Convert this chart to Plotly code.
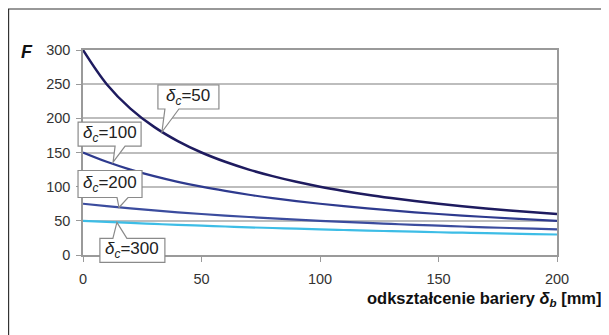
import plotly.graph_objects as go

# deformation of barrier delta_b [mm]
delta_b = [0, 10, 20, 30, 40, 50, 60, 70, 80, 90, 100, 110, 120, 130, 140, 150, 160, 170, 180, 190, 200]

F_dc50 = [300, 250, 214.3, 187.5, 166.7, 150, 136.4, 125, 115.4, 107.1, 100, 93.8, 88.2, 83.3, 78.9, 75, 71.4, 68.2, 65.2, 62.5, 60]
F_dc100 = [150, 136.4, 125, 115.4, 107.1, 100, 93.8, 88.2, 83.3, 78.9, 75, 71.4, 68.2, 65.2, 62.5, 60, 57.7, 55.6, 53.6, 51.7, 50]
F_dc200 = [75, 71.4, 68.2, 65.2, 62.5, 60, 57.7, 55.6, 53.6, 51.7, 50, 48.4, 46.9, 45.5, 44.1, 42.9, 41.7, 40.5, 39.5, 38.5, 37.5]
F_dc300 = [50, 48.4, 46.9, 45.5, 44.1, 42.9, 41.7, 40.5, 39.5, 38.5, 37.5, 36.6, 35.7, 34.9, 34.1, 33.3, 32.6, 31.9, 31.3, 30.6, 30]

series_names = ["δc=50", "δc=100", "δc=200", "δc=300"]
series_labels = ["<i>δ<sub>c</sub></i>=50", "<i>δ<sub>c</sub></i>=100",
                 "<i>δ<sub>c</sub></i>=200", "<i>δ<sub>c</sub></i>=300"]
series_values = [F_dc50, F_dc100, F_dc200, F_dc300]
series_colors = ["#1e1b5f", "#2e3a8e", "#3b4c9e", "#3dbde6"]
series_widths = [2.5, 2.2, 2.2, 2.2]

# callout anchor points on curves (data coords)
label_x = [33.3, 12.7, 15.2, 14.3]
label_y = [180, 136, 69.5, 47.7]
# callout geometry in pixels relative to the tip: box left, right, top, bottom, wedge x1, x2
callout_geom = [
    (-4, 57, 47, 23, 3, 17),
    (-35, 28, 40, 16, 2, 12),
    (-41, 23, 37, 10, -2, 9),
    (-17, 48, -16, -40, -4, 10),
]

x_range = [0, 200]
y_range = [0, 300]
x_ticks = [0, 50, 100, 150, 200]
y_ticks = [0, 50, 100, 150, 200, 250, 300]

fig = go.Figure()
for name, vals, col, w in zip(series_names, series_values, series_colors, series_widths):
    fig.add_trace(go.Scatter(x=delta_b, y=vals, mode="lines", name=name,
                             line=dict(color=col, width=w, shape="spline"),
                             showlegend=False, hoverinfo="skip"))

FONT = "Liberation Sans, Arial"
shapes = []
annotations = []
for lbl, tx, ty, g in zip(series_labels, label_x, label_y, callout_geom):
    L, R, T, B, w1, w2 = g
    if T > 0:
        path = f"M0,0 L{w2},{B} L{R},{B} L{R},{T} L{L},{T} L{L},{B} L{w1},{B} Z"
    else:
        path = f"M0,0 L{w2},{T} L{R},{T} L{R},{B} L{L},{B} L{L},{T} L{w1},{T} Z"
    # anchor given in paper fraction (so the callout is not clipped by the plot area)
    px = (tx - x_range[0]) / (x_range[1] - x_range[0])
    py = (ty - y_range[0]) / (y_range[1] - y_range[0])
    shapes.append(dict(type="path", xref="paper", yref="paper", xsizemode="pixel", ysizemode="pixel",
                       xanchor=px, yanchor=py, path=path, fillcolor="white",
                       line=dict(color="#8a8a8a", width=1.2), layer="above"))
    annotations.append(dict(x=tx, y=ty, xref="x", yref="y", text=lbl, showarrow=False,
                            xshift=(L + R) / 2, yshift=(T + B) / 2,
                            font=dict(family=FONT, size=17, color="#222")))

# outer frame (right and bottom edges run off the picture)
shapes.append(dict(type="rect", xref="paper", yref="paper",
                   x0=-0.157, x1=1.15, y0=-0.45, y1=1.200,
                   line=dict(color="#333333", width=1.2), fillcolor="rgba(0,0,0,0)", layer="below"))

annotations.append(dict(x=1.097, y=-0.215, xref="paper", yref="paper", xanchor="right", yanchor="middle",
                        text="<b>odkształcenie bariery <i>δ<sub>b</sub></i> [mm]</b>", showarrow=False,
                        font=dict(family=FONT, size=16.5, color="#111")))
annotations.append(dict(x=-0.118, y=0.99, xref="paper", yref="paper", xanchor="center", yanchor="middle",
                        text="<b><i>F</i></b>", showarrow=False,
                        font=dict(family=FONT, size=18, color="#111")))

fig.update_layout(
    width=601, height=327,
    margin=dict(l=75, r=52, t=42, b=80),
    paper_bgcolor="white", plot_bgcolor="white",
    font=dict(family=FONT, size=14, color="#333"),
    shapes=shapes, annotations=annotations,
    xaxis=dict(range=x_range, tickvals=x_ticks, showgrid=False, zeroline=False,
               showline=True, linecolor="#9a9a9a", linewidth=1.5, mirror=True,
               ticks="outside", ticklen=5, tickcolor="#9a9a9a", ticklabelstandoff=5,
               tickfont=dict(size=14.5, color="#333")),
    yaxis=dict(range=y_range, tickvals=y_ticks, showgrid=True, gridcolor="#bdbdbd", gridwidth=1.5,
               zeroline=False, showline=True, linecolor="#9a9a9a", linewidth=1.5, mirror=True,
               ticks="outside", ticklen=5, tickcolor="#9a9a9a", ticklabelstandoff=3,
               tickfont=dict(size=14.5, color="#333")),
)

fig.write_html("out.html")
